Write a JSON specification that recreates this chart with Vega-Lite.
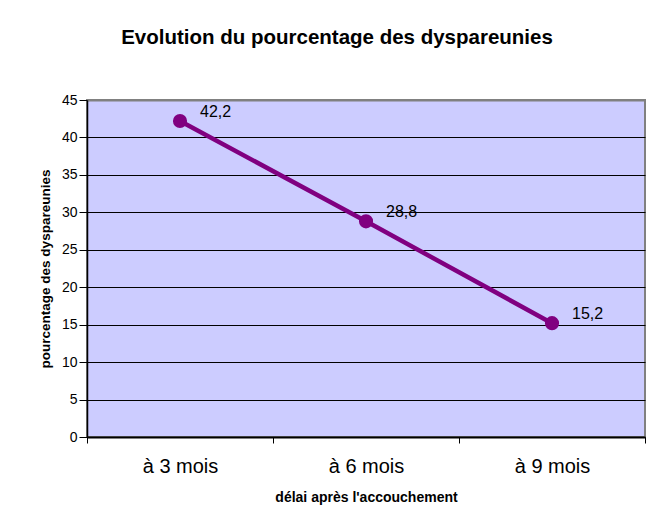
{
  "$schema": "https://vega.github.io/schema/vega-lite/v6.json",
  "width": 558,
  "height": 337,
  "autosize": "none",
  "padding": {"left": 87, "top": 100, "right": 7, "bottom": 94},
  "background": "white",
  "config": {
    "font": "Liberation Sans",
    "view": {"fill": "#CCCCFF", "stroke": "#808080", "strokeWidth": 2}
  },
  "title": {
    "text": "Evolution du pourcentage des dyspareunies",
    "fontSize": 20.5,
    "fontWeight": "bold",
    "color": "black",
    "anchor": "middle",
    "baseline": "alphabetic",
    "offset": 29,
    "dx": -29
  },
  "data": {
    "values": [
      {"delai": "à 3 mois", "pct": 42.2, "label": "42,2"},
      {"delai": "à 6 mois", "pct": 28.8, "label": "28,8"},
      {"delai": "à 9 mois", "pct": 15.2, "label": "15,2"}
    ]
  },
  "encoding": {
    "x": {
      "field": "delai",
      "type": "nominal",
      "sort": null,
      "scale": {"type": "band", "paddingInner": 0, "paddingOuter": 0},
      "axis": {
        "title": "délai après l'accouchement",
        "titleFontSize": 14,
        "titleFontWeight": "bold",
        "titleColor": "black",
        "titleY": 60,
        "titleBaseline": "middle",
        "labelAngle": 0,
        "labelFontSize": 20,
        "labelColor": "black",
        "labelPadding": 13,
        "tickBand": "extent",
        "tickSize": 6,
        "tickColor": "black",
        "domainColor": "black",
        "domainWidth": 2,
        "grid": false
      }
    },
    "y": {
      "field": "pct",
      "type": "quantitative",
      "scale": {"domain": [0, 45], "nice": false},
      "axis": {
        "title": "pourcentage des dyspareunies",
        "titleFontSize": 13.5,
        "titleFontWeight": "bold",
        "titleColor": "black",
        "titleX": -42,
        "titleBaseline": "middle",
        "values": [0, 5, 10, 15, 20, 25, 30, 35, 40, 45],
        "labelFontSize": 14,
        "labelColor": "black",
        "labelPadding": 2,
        "tickSize": 8,
        "tickColor": "black",
        "domainColor": "black",
        "domainWidth": 1.5,
        "grid": true,
        "gridColor": {"condition": {"test": "datum.value == 45", "value": "#808080"}, "value": "black"},
        "gridWidth": {"condition": {"test": "datum.value == 45", "value": 2}, "value": 1},
        "gridOpacity": 1
      }
    }
  },
  "layer": [
    {"mark": {"type": "line", "color": "#800080", "strokeWidth": 4.5}},
    {"mark": {"type": "point", "filled": true, "size": 200, "color": "#800080", "opacity": 1}},
    {
      "mark": {"type": "text", "align": "left", "baseline": "middle", "dx": 20, "dy": -9, "fontSize": 16, "color": "black"},
      "encoding": {"text": {"field": "label"}}
    }
  ]
}
